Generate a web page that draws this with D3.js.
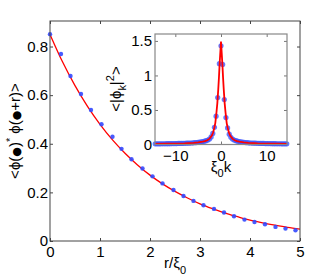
<!DOCTYPE html>
<html>
<head>
<meta charset="utf-8">
<script src="https://cdn.jsdelivr.net/npm/d3@7"></script>
<style>
  body { margin: 0; background: #fff; }
  svg { display: block; font-family: "Liberation Sans", Arial, sans-serif; }
</style>
</head>
<body>
<svg width="332" height="279"></svg>
<script>
// main panel: correlation vs r/xi0
const rPts = [0, 0.22, 0.41, 0.62, 0.82, 1.03, 1.25, 1.43, 1.63, 1.85, 2.05, 2.25, 2.47,
  2.67, 2.87, 3.07, 3.28, 3.48, 3.68, 3.89, 4.09, 4.3, 4.51, 4.71, 4.91];
const corrPts = [0.851, 0.769, 0.679, 0.605, 0.539, 0.48, 0.429, 0.379, 0.336, 0.298, 0.266,
  0.237, 0.21, 0.185, 0.165, 0.147, 0.132, 0.117, 0.102, 0.088, 0.078, 0.069, 0.058, 0.051, 0.044];
const rFit = [0, 0.25, 0.5, 0.75, 1, 1.25, 1.5, 1.75, 2, 2.25, 2.5, 2.75, 3, 3.25, 3.5,
  3.75, 4, 4.25, 4.5, 4.75, 5];
const corrFit = [0.85, 0.737, 0.639, 0.554, 0.48, 0.416, 0.361, 0.313, 0.271, 0.235, 0.204,
  0.177, 0.153, 0.133, 0.115, 0.1, 0.086, 0.075, 0.065, 0.056, 0.049];

// inset: <|phi_k|^2> vs xi0 k
const kPts = [-14.4, -14.04, -13.68, -13.32, -12.96, -12.6, -12.24, -11.88, -11.52, -11.16,
  -10.8, -10.44, -10.08, -9.72, -9.36, -9, -8.64, -8.28, -7.92, -7.56, -7.2, -6.84, -6.48,
  -6.12, -5.76, -5.4, -5.04, -4.68, -4.32, -3.96, -3.6, -3.24, -2.88, -2.52, -2.16, -1.8,
  -1.44, -1.08, -0.72, -0.36, 0, 0.36, 0.72, 1.08, 1.44, 1.8, 2.16, 2.52, 2.88, 3.24, 3.6,
  3.96, 4.32, 4.68, 5.04, 5.4, 5.76, 6.12, 6.48, 6.84, 7.2, 7.56, 7.92, 8.28, 8.64, 9, 9.36,
  9.72, 10.08, 10.44, 10.8, 11.16, 11.52, 11.88, 12.24, 12.6, 12.96, 13.32, 13.68, 14.04, 14.4];
const specPts = [0.01, 0.01, 0.01, 0.01, 0.011, 0.011, 0.011, 0.012, 0.012, 0.012,
  0.013, 0.013, 0.014, 0.014, 0.015, 0.015, 0.016, 0.017, 0.018, 0.019, 0.02, 0.021, 0.022,
  0.024, 0.026, 0.028, 0.031, 0.034, 0.038, 0.042, 0.048, 0.055, 0.065, 0.08, 0.11, 0.16,
  0.25, 0.41, 0.68, 1.17, 1.43, 1.16, 0.65, 0.39, 0.24, 0.15, 0.105, 0.08, 0.065, 0.055, 0.048,
  0.042, 0.038, 0.034, 0.031, 0.028, 0.026, 0.024, 0.022, 0.021, 0.02, 0.019, 0.018, 0.017,
  0.016, 0.015, 0.015, 0.014, 0.014, 0.013, 0.013, 0.012, 0.012, 0.012, 0.011, 0.011, 0.011,
  0.01, 0.01, 0.01, 0.01];
const kFit = [-14.45, -12, -10, -8, -6, -5, -4, -3.5, -3, -2.5, -2, -1.75, -1.5, -1.25, -1,
  -0.8, -0.6, -0.45, -0.3, -0.15, 0, 0.15, 0.3, 0.45, 0.6, 0.8, 1, 1.25, 1.5, 1.75, 2, 2.5,
  3, 3.5, 4, 5, 6, 8, 10, 12, 14.45];
const specFit = [0.009, 0.011, 0.014, 0.017, 0.024, 0.03, 0.04, 0.048, 0.062, 0.085, 0.13,
  0.17, 0.23, 0.31, 0.46, 0.6, 0.8, 0.97, 1.17, 1.33, 1.49, 1.33, 1.17, 0.97, 0.8, 0.6, 0.46,
  0.31, 0.23, 0.17, 0.13, 0.085, 0.062, 0.048, 0.04, 0.03, 0.024, 0.017, 0.014, 0.011, 0.009];

const xTicks = [0, 1, 2, 3, 4, 5];
const yTicks = [0, 0.2, 0.4, 0.6, 0.8];
const kTicks = [-10, 0, 10];
const sTicks = [0, 0.5, 1, 1.5];

const svg = d3.select("svg");
const fontSize = 15;
const fmt = d3.format("~g");

function frame(g, x, y, xt, yt, color, padX, padY) {
  const [x0, x1] = x.range();
  const [y0, y1] = y.range();
  g.append("rect")
    .attr("x", x0).attr("y", y1)
    .attr("width", x1 - x0).attr("height", y0 - y1)
    .attr("fill", "#fff");

  const axes = [
    [d3.axisBottom(x).tickValues(xt).tickSize(-3).tickPadding(padX).tickFormat(fmt), `translate(0,${y0})`],
    [d3.axisTop(x).tickValues(xt).tickSize(-3).tickFormat(""), `translate(0,${y1})`],
    [d3.axisLeft(y).tickValues(yt).tickSize(-3).tickPadding(padY).tickFormat(fmt), `translate(${x0},0)`],
    [d3.axisRight(y).tickValues(yt).tickSize(-3).tickFormat(""), `translate(${x1},0)`]
  ];
  axes.forEach(([ax, tr]) => {
    const a = g.append("g").attr("transform", tr).call(ax);
    a.select(".domain").remove();
    a.selectAll(".tick line").attr("stroke", color);
    a.selectAll(".tick text")
      .attr("fill", "#000")
      .attr("font-size", fontSize)
      .attr("font-family", "Liberation Sans, Arial, sans-serif");
  });
}

function box(g, x, y, color, w) {
  const [x0, x1] = x.range();
  const [y0, y1] = y.range();
  g.append("rect")
    .attr("x", x0).attr("y", y1)
    .attr("width", x1 - x0).attr("height", y0 - y1)
    .attr("fill", "none")
    .attr("stroke", color)
    .attr("stroke-width", w);
}

// ---- main panel
const x = d3.scaleLinear().domain([0, 5]).range([50, 300]);
const y = d3.scaleLinear().domain([0, 0.905]).range([241, 21]);

const main = svg.append("g");
frame(main, x, y, xTicks, yTicks, "#444", 5, 2);

main.append("path")
  .datum(rFit.map((r, i) => [r, corrFit[i]]))
  .attr("fill", "none")
  .attr("stroke", "#ff0000")
  .attr("stroke-width", 1.3)
  .attr("d", d3.line().x(d => x(d[0])).y(d => y(d[1])).curve(d3.curveMonotoneX));

main.append("g")
  .selectAll("circle")
  .data(rPts.map((r, i) => [r, corrPts[i]]))
  .enter().append("circle")
    .attr("cx", d => x(d[0]))
    .attr("cy", d => y(d[1]))
    .attr("r", 2.2)
    .attr("fill", "#3349ff")
    .attr("opacity", 0.9);

box(main, x, y, "#444", 1);

// axis labels
main.append("text")
  .attr("x", 175).attr("y", 268)
  .attr("text-anchor", "middle")
  .attr("font-size", fontSize)
  .call(t => {
    t.append("tspan").text("r/ξ");
    t.append("tspan").attr("dy", 6).attr("font-size", 11).text("0");
  });

main.append("text")
  .attr("transform", "translate(19.5,131) rotate(-90)")
  .attr("text-anchor", "middle")
  .attr("font-size", fontSize)
  .call(t => {
    t.append("tspan").text("<ϕ(");
    t.append("tspan").attr("font-size", 11).attr("font-family", "DejaVu Sans").text("●");
    t.append("tspan").text(")");
    t.append("tspan").attr("dy", -6).attr("font-size", 11).text("*");
    t.append("tspan").attr("dy", 6).text(" ϕ(");
    t.append("tspan").attr("font-size", 11).attr("font-family", "DejaVu Sans").text("●");
    t.append("tspan").text("+r)>");
  });

// ---- inset
const kx = d3.scaleLinear().domain([-14.45, 14.45]).range([155, 287]);
const sy = d3.scaleLinear().domain([0, 1.6]).range([144.5, 34]);

const inset = svg.append("g");
frame(inset, kx, sy, kTicks, sTicks, "#777", 5.5, 3);

inset.append("g")
  .selectAll("circle")
  .data(kPts.map((k, i) => [k, specPts[i]]))
  .enter().append("circle")
    .attr("cx", d => kx(d[0]))
    .attr("cy", d => sy(d[1]))
    .attr("r", 2.6)
    .attr("fill", "#4058ff")
    .attr("opacity", 0.8);

inset.append("path")
  .datum(kFit.map((k, i) => [k, specFit[i]]))
  .attr("fill", "none")
  .attr("stroke", "#ff0000")
  .attr("stroke-width", 1.8)
  .attr("d", d3.line().x(d => kx(d[0])).y(d => sy(d[1])));

box(inset, kx, sy, "#888", 1.2);

inset.append("text")
  .attr("x", 221).attr("y", 171.5)
  .attr("text-anchor", "middle")
  .attr("font-size", fontSize)
  .call(t => {
    t.append("tspan").text("ξ");
    t.append("tspan").attr("dy", 5).attr("font-size", 11).text("0");
    t.append("tspan").attr("dy", -5).text("k");
  });

inset.append("text")
  .attr("transform", "translate(120.5,89) rotate(-90)")
  .attr("text-anchor", "middle")
  .attr("font-size", fontSize)
  .call(t => {
    t.append("tspan").text("<|ϕ");
    t.append("tspan").attr("dy", 5).attr("font-size", 11).text("k");
    t.append("tspan").attr("dy", -5).text("|");
    t.append("tspan").attr("dy", -7).attr("font-size", 11).text("2");
    t.append("tspan").attr("dy", 7).text(">");
  });
</script>
</body>
</html>
